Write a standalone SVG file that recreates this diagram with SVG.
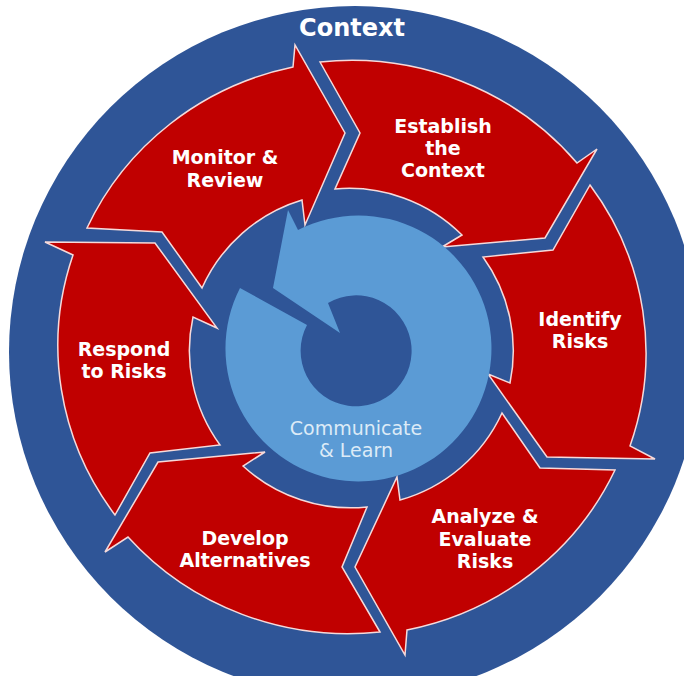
<svg xmlns="http://www.w3.org/2000/svg" width="684" height="676" viewBox="0 0 684 676">
  <style>
    .ring { fill: #2F5597; }
    .step { fill: #C00000; stroke: #F6DADA; stroke-width: 1.5; stroke-linejoin: miter; }
    .hub { fill: #5B9BD5; }
    .lbl { font-family: "DejaVu Sans", Verdana, sans-serif; font-weight: bold; font-size: 19px; fill: #FFFFFF; text-anchor: middle; }
    .title { font-family: "DejaVu Sans", Verdana, sans-serif; font-weight: bold; font-size: 24px; fill: #FFFFFF; text-anchor: middle; }
    .hubtxt { font-family: "DejaVu Sans", Verdana, sans-serif; font-size: 19px; fill: #DDEBF7; text-anchor: middle; }
  </style>

  <!-- outer context disc -->
  <g id="context">
    <circle class="ring" cx="355" cy="352" r="346"/>
    <text class="title" x="352" y="36">Context</text>
  </g>

  <!-- six process steps, clockwise -->
  <g id="monitor-review">
    <path class="step" d="M87,228 A294,286 0 0 1 293,67 L295,45 L345,133 L305,225 L302,200 A160,160 0 0 0 202,288 L162,232 Z"/>
    <text class="lbl" x="225" y="164">Monitor &amp;</text>
    <text class="lbl" x="225" y="187">Review</text>
  </g>

  <g id="establish-context">
    <path class="step" d="M320,62 A294,286 0 0 1 577,163 L597,149 L545,238 L442,247 L462,235 A160,160 0 0 0 335,189 L360,133 Z"/>
    <text class="lbl" x="443" y="133">Establish</text>
    <text class="lbl" x="443" y="155">the</text>
    <text class="lbl" x="443" y="177">Context</text>
  </g>

  <g id="identify-risks">
    <path class="step" d="M590,185 A294,286 0 0 1 630,446 L655,459 L547,457 L488,374 L510,383 A160,160 0 0 0 483,257 L553,250 Z"/>
    <text class="lbl" x="580" y="326">Identify</text>
    <text class="lbl" x="580" y="348">Risks</text>
  </g>

  <g id="analyze-evaluate">
    <path class="step" d="M615,470 A294,286 0 0 1 407,630 L405,655 L355,567 L397,477 L400,500 A160,160 0 0 0 502,413 L540,468 Z"/>
    <text class="lbl" x="485" y="523">Analyze &amp;</text>
    <text class="lbl" x="485" y="546">Evaluate</text>
    <text class="lbl" x="485" y="568">Risks</text>
  </g>

  <g id="develop-alternatives">
    <path class="step" d="M380,632 A294,286 0 0 1 128,537 L105,552 L158,462 L265,452 L243,466 A160,160 0 0 0 367,507 L342,567 Z"/>
    <text class="lbl" x="245" y="545">Develop</text>
    <text class="lbl" x="245" y="567">Alternatives</text>
  </g>

  <g id="respond-risks">
    <path class="step" d="M115,515 A294,286 0 0 1 73,255 L45,242 L155,243 L217,328 L193,317 A160,160 0 0 0 220,445 L150,453 Z"/>
    <text class="lbl" x="124" y="356">Respond</text>
    <text class="lbl" x="124" y="378">to Risks</text>
  </g>

  <!-- central circular arrow -->
  <g id="communicate-learn">
    <path class="hub" d="M240,288 A133,133 0 1 0 298,230 L288,210 L273,288 L340,333 L328,303 A55.5,55.5 0 1 1 307,325 Z"/>
    <text class="hubtxt" x="356" y="435">Communicate</text>
    <text class="hubtxt" x="356" y="457">&amp; Learn</text>
  </g>
</svg>
